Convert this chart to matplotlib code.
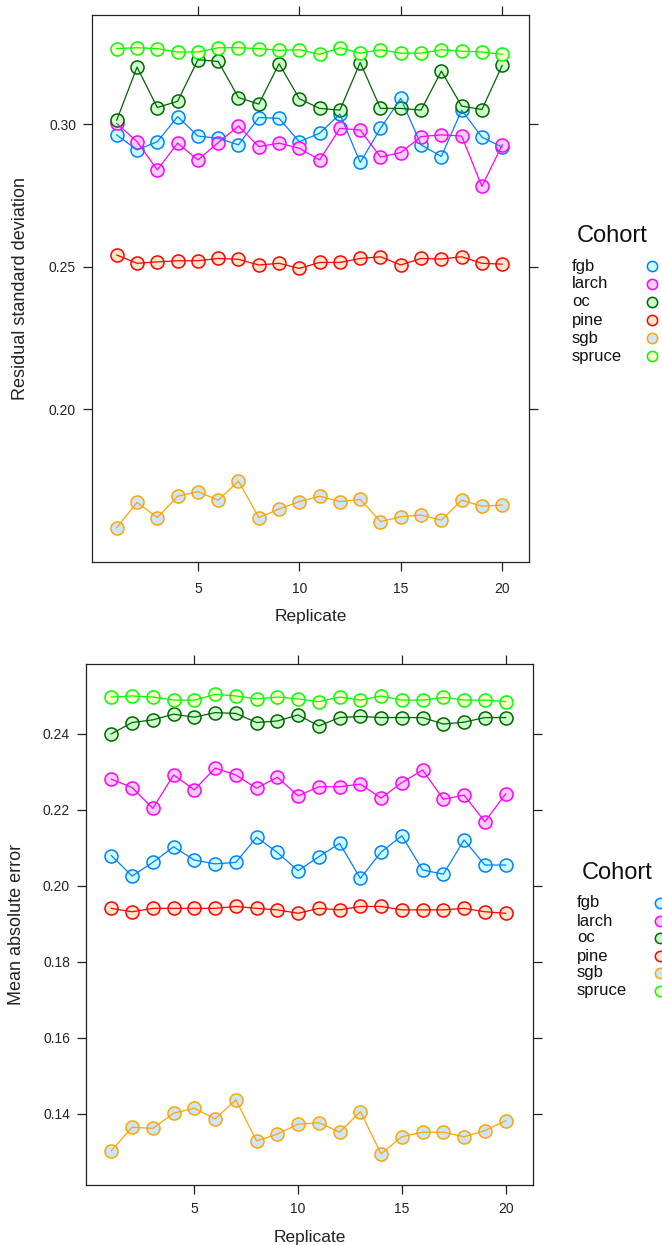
import matplotlib
matplotlib.use("Agg")
import matplotlib.pyplot as plt
from matplotlib.lines import Line2D

plt.rcParams['font.family'] = ['Liberation Sans', 'DejaVu Sans']

replicates = list(range(1, 21))
cohorts = ["fgb", "larch", "oc", "pine", "sgb", "spruce"]
edge_colors = ["#0080ff", "#ff00ff", "#006400", "#ff0000", "#ffa500", "#00ff00"]
fill_colors = ["#ccffff", "#ffccff", "#ccffcc", "#ffe5cc", "#cce6ff", "#ffffcc"]

# Residual standard deviation
rsd_fgb = [0.2963, 0.2910, 0.2939, 0.3027, 0.2959, 0.2951, 0.2928, 0.3024, 0.3021, 0.2939,
           0.2969, 0.3036, 0.2866, 0.2986, 0.3091, 0.2928, 0.2887, 0.3050, 0.2955, 0.2920]
rsd_larch = [0.3003, 0.2939, 0.2840, 0.2934, 0.2875, 0.2936, 0.2994, 0.2922, 0.2934, 0.2916,
             0.2875, 0.2986, 0.2980, 0.2885, 0.2901, 0.2957, 0.2963, 0.2959, 0.2782, 0.2928]
rsd_oc = [0.3015, 0.3201, 0.3059, 0.3081, 0.3227, 0.3221, 0.3094, 0.3071, 0.3213, 0.3090,
          0.3056, 0.3050, 0.3217, 0.3056, 0.3056, 0.3050, 0.3187, 0.3064, 0.3052, 0.3207]
rsd_pine = [0.2541, 0.2512, 0.2517, 0.2521, 0.2521, 0.2529, 0.2526, 0.2506, 0.2512, 0.2494,
            0.2515, 0.2515, 0.2529, 0.2535, 0.2506, 0.2529, 0.2527, 0.2535, 0.2512, 0.2509]
rsd_sgb = [0.1584, 0.1672, 0.1619, 0.1694, 0.1710, 0.1680, 0.1747, 0.1619, 0.1649, 0.1675,
           0.1694, 0.1675, 0.1683, 0.1605, 0.1622, 0.1628, 0.1610, 0.1680, 0.1659, 0.1663]
rsd_spruce = [0.3266, 0.3269, 0.3266, 0.3254, 0.3254, 0.3269, 0.3269, 0.3266, 0.3260, 0.3262,
              0.3246, 0.3269, 0.3250, 0.3262, 0.3250, 0.3250, 0.3262, 0.3257, 0.3254, 0.3246]

# Mean absolute error
mae_fgb = [0.2080, 0.2026, 0.2062, 0.2103, 0.2068, 0.2058, 0.2062, 0.2128, 0.2088, 0.2040,
           0.2077, 0.2112, 0.2020, 0.2089, 0.2132, 0.2042, 0.2031, 0.2121, 0.2055, 0.2055]
mae_larch = [0.2281, 0.2259, 0.2204, 0.2292, 0.2253, 0.2310, 0.2292, 0.2257, 0.2286, 0.2237,
             0.2261, 0.2261, 0.2268, 0.2231, 0.2272, 0.2305, 0.2228, 0.2239, 0.2169, 0.2242]
mae_oc = [0.2400, 0.2430, 0.2437, 0.2452, 0.2444, 0.2456, 0.2454, 0.2430, 0.2434, 0.2450,
          0.2421, 0.2443, 0.2446, 0.2443, 0.2443, 0.2443, 0.2426, 0.2431, 0.2443, 0.2443]
mae_pine = [0.1941, 0.1932, 0.1941, 0.1941, 0.1941, 0.1941, 0.1946, 0.1941, 0.1937, 0.1928,
            0.1941, 0.1937, 0.1946, 0.1946, 0.1937, 0.1937, 0.1937, 0.1941, 0.1932, 0.1928]
mae_sgb = [0.1303, 0.1365, 0.1362, 0.1402, 0.1415, 0.1387, 0.1437, 0.1329, 0.1347, 0.1373,
           0.1377, 0.1352, 0.1406, 0.1295, 0.1340, 0.1352, 0.1352, 0.1340, 0.1356, 0.1382]
mae_spruce = [0.2497, 0.2500, 0.2497, 0.2489, 0.2489, 0.2504, 0.2500, 0.2492, 0.2497, 0.2492,
              0.2485, 0.2497, 0.2489, 0.2500, 0.2489, 0.2489, 0.2496, 0.2489, 0.2489, 0.2485]

rsd_series = [rsd_fgb, rsd_larch, rsd_oc, rsd_pine, rsd_sgb, rsd_spruce]
mae_series = [mae_fgb, mae_larch, mae_oc, mae_pine, mae_sgb, mae_spruce]

W, H = 662, 1245
fig = plt.figure(figsize=(W / 100, H / 100), dpi=100)

def box(l, t, r, b):
    return [l / W, 1 - b / H, (r - l) / W, (b - t) / H]

ax1 = fig.add_axes(box(92, 15, 529, 562))
ax2 = fig.add_axes(box(86, 664, 533, 1185))

def draw(ax, series, ylim, yticks, ylabel, xpad, xlabelpad, ylabelpad):
    for vals, ec, fc in zip(series, edge_colors, fill_colors):
        ax.plot(replicates, vals, linestyle='none', marker='o', markersize=9.4,
                markerfacecolor=fc, markeredgecolor=ec, markeredgewidth=1.1, zorder=2)
        ax.plot(replicates, vals, color=ec, linewidth=0.9, zorder=3)
    ax.set_xlim(-0.22, 21.32)
    ax.set_ylim(*ylim)
    ax.set_xticks([5, 10, 15, 20])
    ax.set_yticks(yticks)
    ax.set_yticklabels(["%.2f" % v for v in yticks])
    ax.tick_params(axis='both', which='both', direction='out', length=6.5, width=0.9,
                   labelsize=10, pad=5, top=True, right=True, colors='#222222',
                   labelcolor='#222222')
    ax.tick_params(axis='x', pad=xpad)
    for s in ax.spines.values():
        s.set_linewidth(0.9)
        s.set_color('#222222')
    ax.set_xlabel("Replicate", fontsize=12.5, labelpad=xlabelpad, color='#222222')
    ax.set_ylabel(ylabel, fontsize=13, labelpad=ylabelpad, color='#222222')

draw(ax1, rsd_series, (0.1463, 0.3384), [0.20, 0.25, 0.30], "Residual standard deviation",
     8, 9, 14)
draw(ax2, mae_series, (0.1213, 0.2584), [0.14, 0.16, 0.18, 0.20, 0.22, 0.24], "Mean absolute error",
     6, 10, 13)

def legend(title_xy, text_x, mark_x, ys):
    fig.text(title_xy[0] / W, 1 - title_xy[1] / H, "Cohort", fontsize=17, ha='left',
             va='center', color='#111111')
    for name, ec, fc, y in zip(cohorts, edge_colors, fill_colors, ys):
        fig.text(text_x / W, 1 - y / H, name, fontsize=12, ha='left', va='center', color='#111111')
        fig.add_artist(Line2D([mark_x / W], [1 - y / H], transform=fig.transFigure,
                              linestyle='none', marker='o', markersize=7.4,
                              markerfacecolor=fc, markeredgecolor=ec, markeredgewidth=1.1))

legend((577, 236), 572, 652, [266, 284, 302, 320, 338, 356])
legend((582, 873), 577, 660, [903, 921, 938, 956, 973, 991])

fig.savefig("out.png", dpi=100)
